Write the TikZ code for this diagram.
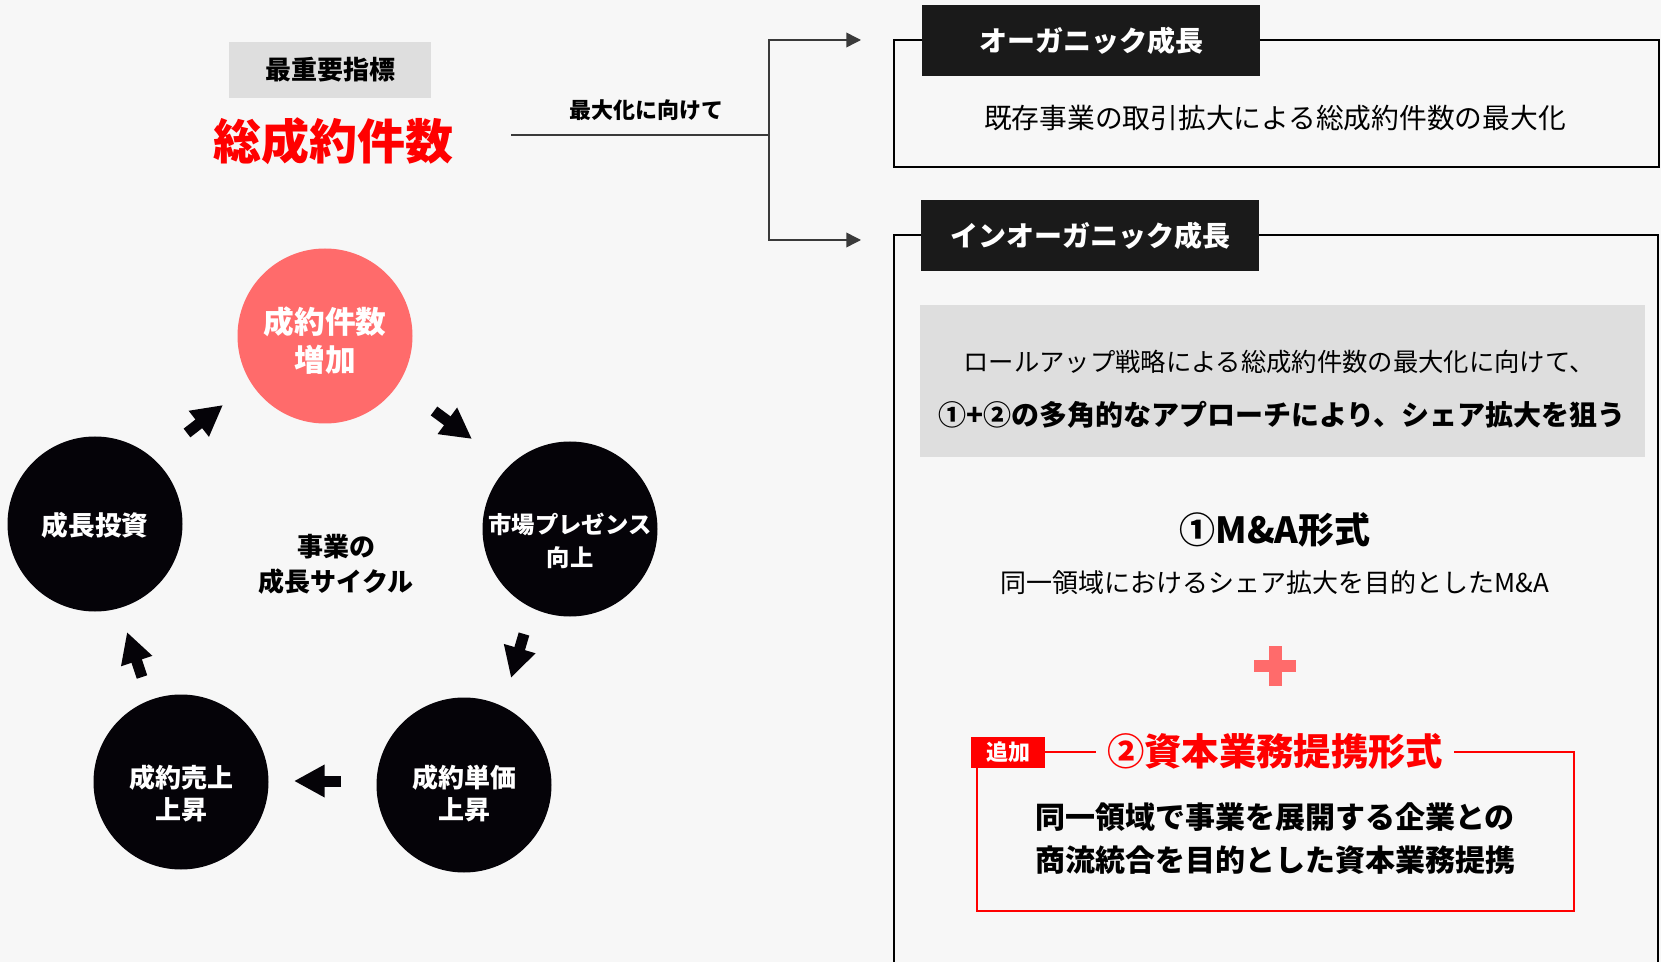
\documentclass[tikz,border=0pt]{standalone}
\usepackage{fontspec}
\setmainfont{Noto Sans CJK JP}
\usetikzlibrary{arrows.meta}
\definecolor{bgc}{HTML}{F7F7F7}
\definecolor{grayfill}{HTML}{DEDEDE}
\definecolor{lblk}{HTML}{1A1A1A}
\definecolor{circk}{HTML}{050308}
\definecolor{pinkc}{HTML}{FF6B6B}
\definecolor{redc}{HTML}{FF0000}
\definecolor{hubc}{HTML}{3A3A3A}
\newcommand{\fs}[2]{\fontsize{#1}{#2}\selectfont}
\tikzset{
  hdr/.style={fill=lblk, text=white, inner sep=0pt, minimum width=253.5pt, minimum height=53.25pt, font=\fs{21pt}{25pt}\bfseries},
  cyc/.style={circle, inner sep=0pt, minimum size=131.25pt, fill=circk},
  ctext/.style={text=white, align=center, font=\fs{19.5pt}{24pt}\bfseries},
  blockarr/.style={draw=circk, line width=8.25pt, -{Triangle[length=23pt,width=23pt]}, color=circk},
  hubarr/.style={draw=hubc, line width=1.1pt, -{Triangle[length=11pt,width=11pt]}},
  boxline/.style={draw=black, line width=1.6pt},
}
\begin{document}
\begin{tikzpicture}[x=0.75pt, y=-0.75pt]
\fill[bgc] (0,0) rectangle (1661,962);
\useasboundingbox (0,0) rectangle (1661,962);

% ---- top-left KPI ----
\node[fill=grayfill, minimum width=151.5pt, minimum height=42pt, inner sep=0pt, font=\fs{19.5pt}{24pt}\bfseries] (kpihead) at (330,70) {最重要指標};
\node[text=redc, font=\fs{36pt}{40pt}\bfseries] (kpi) at (333,141) {総成約件数};

% ---- hub connector ----
\coordinate (hubL) at (511,135);
\coordinate (hub) at (769,135);
\coordinate (t1) at (861,40);
\coordinate (t2) at (861,240);
\draw[draw=hubc, line width=1.1pt] (hubL) -- (hub);
\draw[hubarr] (hub) |- (t1);
\draw[hubarr] (hub) |- (t2);
\node[font=\fs{16.5pt}{20pt}\bfseries] (hublbl) at (646,110) {最大化に向けて};

% ---- organic box ----
\draw[boxline] (894,40) rectangle (1659,167);
\node[hdr] (org) at (1091,40.5) {オーガニック成長};
\node[font=\fs{20.8pt}{25pt}] (orgtxt) at (1275,118) {既存事業の取引拡大による総成約件数の最大化};

% ---- inorganic box ----
\draw[boxline] (894,975) -- (894,235) -- (1658,235) -- (1658,975);
\node[hdr] (inorg) at (1090,235.5) {インオーガニック成長};

\fill[grayfill] (920,305) rectangle (1645,457);
\node[font=\fs{19pt}{24pt}] (roll1) at (1279,362) {ロールアップ戦略による総成約件数の最大化に向けて、};
\node[font=\fs{21pt}{25pt}\bfseries] (roll2) at (1282,415) {①+②の多角的なアプローチにより、シェア拡大を狙う};

\node[font=\fs{27pt}{32pt}\bfseries] (ma) at (1275,530) {①M\&A形式};
\node[font=\fs{19.5pt}{24pt}] (matxt) at (1275,583) {同一領域におけるシェア拡大を目的としたM\&A};

% plus sign
\fill[pinkc] (1254,660) rectangle (1296,672);
\fill[pinkc] (1268.5,646) rectangle (1281.5,686);

% ---- capital alliance ----
\draw[draw=redc, line width=1.6pt] (977,752) rectangle (1574,911);
\node[fill=bgc, text=redc, inner xsep=8pt, inner ysep=0pt, font=\fs{28pt}{32pt}\bfseries] (cap) at (1275,751) {②資本業務提携形式};
\node[fill=redc, text=white, inner sep=0pt, minimum width=55.5pt, minimum height=23.25pt, font=\fs{16.5pt}{20pt}\bfseries] (add) at (1008,752.5) {追加};
\node[align=center, font=\fs{22.5pt}{32.25pt}\bfseries] (captxt) at (1275,838.5) {同一領域で事業を展開する企業との\\商流統合を目的とした資本業務提携};

% ---- growth cycle ----
\node[cyc, fill=pinkc] (c1) at (325,336) {};
\node[cyc] (c2) at (570,529) {};
\node[cyc] (c3) at (464,785) {};
\node[cyc] (c4) at (181,782) {};
\node[cyc] (c5) at (95,524) {};

\node[ctext, font=\fs{23pt}{28.5pt}\bfseries] (c1t) at (325,341) {成約件数\\増加};
\node[ctext, font=\fs{17.5pt}{24.75pt}\bfseries] (c2t) at (570,541) {市場プレゼンス\\向上};
\node[ctext] (c3t) at (464,793) {成約単価\\上昇};
\node[ctext] (c4t) at (181,793) {成約売上\\上昇};
\node[ctext, font=\fs{20pt}{24pt}\bfseries] (c5t) at (95,525) {成長投資};

\node[align=center, font=\fs{19.5pt}{26.25pt}\bfseries] (cycle) at (336,564.5) {事業の\\成長サイクル};

\coordinate (a1s) at (187,433); \coordinate (a1e) at (223,405);
\coordinate (a2s) at (434,411); \coordinate (a2e) at (472,439);
\coordinate (a3s) at (524,634); \coordinate (a3e) at (511,678);
\coordinate (a4s) at (341,781); \coordinate (a4e) at (294,781);
\coordinate (a5s) at (142,677); \coordinate (a5e) at (127,632);
\draw[blockarr] (a1s) -- (a1e);
\draw[blockarr] (a2s) -- (a2e);
\draw[blockarr] (a3s) -- (a3e);
\draw[blockarr] (a4s) -- (a4e);
\draw[blockarr] (a5s) -- (a5e);
\end{tikzpicture}
\end{document}
